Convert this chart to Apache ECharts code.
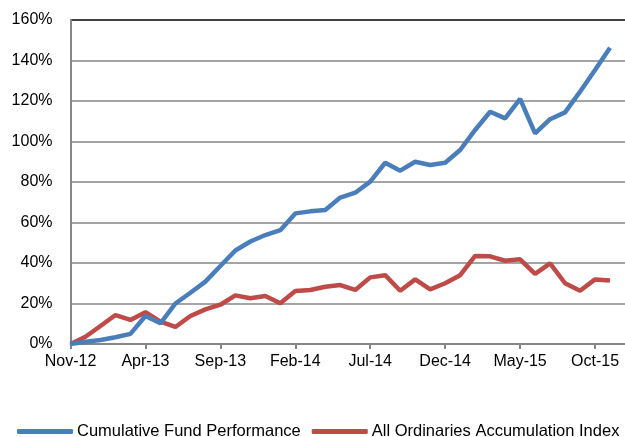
<!DOCTYPE html>
<html>
<head>
<meta charset="utf-8">
<script src="https://cdn.jsdelivr.net/npm/echarts@6/dist/echarts.min.js"></script>
<style>
html,body{margin:0;padding:0;background:#fff;}
#c{width:625px;height:437px;}
</style>
</head>
<body>
<div id="c"></div>
<script>
const categories = ['Nov-12','Dec-12','Jan-13','Feb-13','Mar-13','Apr-13','May-13','Jun-13','Jul-13','Aug-13','Sep-13','Oct-13','Nov-13','Dec-13','Jan-14','Feb-14','Mar-14','Apr-14','May-14','Jun-14','Jul-14','Aug-14','Sep-14','Oct-14','Nov-14','Dec-14','Jan-15','Feb-15','Mar-15','Apr-15','May-15','Jun-15','Jul-15','Aug-15','Sep-15','Oct-15','Nov-15','Dec-15'];
const fundName = 'Cumulative Fund Performance';
const indexName = 'All Ordinaries Accumulation Index';
const fundValues = [0,1.1,2,3.3,5,13.8,10.2,20,25.3,30.8,38.5,46.2,50.6,53.8,56.2,64.5,65.5,66.2,72.3,74.7,80.2,89.5,85.6,90,88.4,89.5,95.8,105.7,114.7,111.4,121,104,111,114.4,124.6,135.3,146.3];
const indexValues = [0,3.6,8.9,14.3,11.9,15.7,11,8.4,13.8,17.1,19.4,24,22.6,23.7,20.1,26.2,26.7,28.3,29.1,26.7,32.9,34,26.3,31.9,27,30,34,43.5,43.3,41.1,41.8,34.6,39.8,30,26.3,31.9,31.3];
const yTicks = {min:0, max:160, interval:20};

const chart = echarts.init(document.getElementById('c'), null, {renderer:'canvas'});
const font = 'Liberation Sans';
chart.setOption({
  animation:false,
  backgroundColor:'#fff',
  grid:{left:70.5, right:-0.5, top:20, bottom:93, containLabel:false},
  legend:{
    data:[fundName, indexName],
    left:12, top:418, width:1000,
    itemWidth:56, itemHeight:5, itemGap:11,
    icon:'roundRect',
    textStyle:{fontFamily:font, fontSize:16.5, color:'#000', padding:[0,0,0,-1]}
  },
  xAxis:{
    type:'category', data:categories, boundaryGap:false,
    axisLine:{lineStyle:{color:'#868686', width:2}},
    axisTick:{show:true, interval:4, length:5, lineStyle:{color:'#868686', width:2}},
    axisLabel:{interval:4, fontFamily:font, fontSize:16, color:'#000', margin:10},
    splitLine:{show:false}
  },
  yAxis:{
    type:'value', min:yTicks.min, max:yTicks.max, interval:yTicks.interval,
    axisLine:{show:true, lineStyle:{color:'#868686', width:2}},
    axisTick:{show:false},
    axisLabel:{formatter:'{value}%', fontFamily:font, fontSize:16, color:'#000', margin:18},
    splitLine:{show:true, lineStyle:{color:['#868686','#868686','#868686','#868686','#868686','#868686','#868686','#868686','#000'], width:1.5}}
  },
  series:[
    {name:fundName, type:'line', data:fundValues, symbol:'none', lineStyle:{color:'#4A7EBB', width:4.5}, itemStyle:{color:'#4A7EBB'}, z:3},
    {name:indexName, type:'line', data:indexValues, symbol:'none', lineStyle:{color:'#BE4B48', width:4.5}, itemStyle:{color:'#BE4B48'}, z:2}
  ]
});
</script>
</body>
</html>
